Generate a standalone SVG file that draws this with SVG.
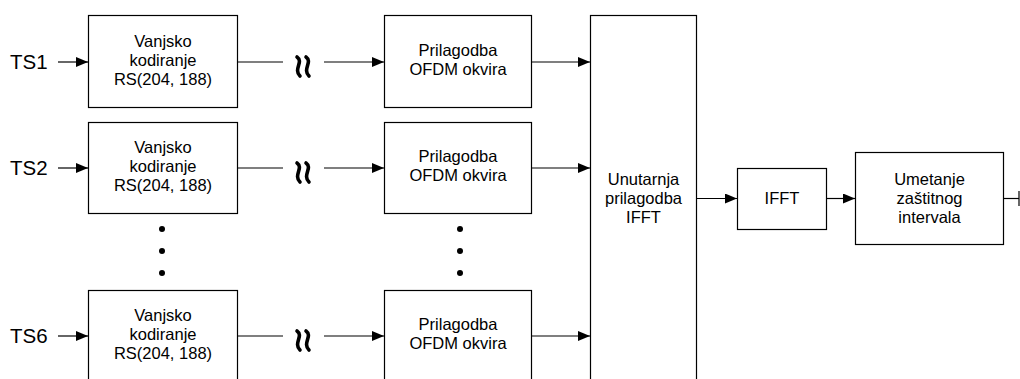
<svg xmlns="http://www.w3.org/2000/svg" width="1020" height="379" viewBox="0 0 1020 379">
<style>
.box{fill:#fff;stroke:#000;stroke-width:1.2}
.t{font-family:"Liberation Sans",Arial,sans-serif;font-size:16.5px;fill:#000;text-anchor:middle}
.lbl{font-family:"Liberation Sans",Arial,sans-serif;font-size:20.5px;fill:#000}
.ln{stroke:#000;stroke-width:1.2;fill:none}
.sq{stroke:#000;stroke-width:3.6;fill:none;stroke-linecap:round}
</style>
<defs>
<marker id="ah" viewBox="0 0 12 10" refX="12" refY="5" markerWidth="12" markerHeight="10" markerUnits="userSpaceOnUse" orient="auto">
<path d="M0,0 L12,5 L0,10 Z" fill="#000"/>
</marker>
<g id="squig">
<path class="sq" d="M0,0 C7,5 -4,12 3,19"/>
<path class="sq" d="M9,0 C16,5 5,12 12,19"/>
</g>
</defs>
<rect width="1020" height="379" fill="#fff"/>
<g id="labels">
<text class="lbl" x="10" y="69">TS1</text>
<text class="lbl" x="10" y="175">TS2</text>
<text class="lbl" x="10" y="343">TS6</text>
</g>
<g id="enc1"><rect class="box" x="88.5" y="15.5" width="149" height="92"/>
<text class="t" x="163" y="47">Vanjsko</text><text class="t" x="163" y="66">kodiranje</text><text class="t" x="163" y="85">RS(204, 188)</text></g>
<g id="enc2"><rect class="box" x="88.5" y="122.5" width="149" height="91"/>
<text class="t" x="163" y="153">Vanjsko</text><text class="t" x="163" y="172">kodiranje</text><text class="t" x="163" y="191">RS(204, 188)</text></g>
<g id="enc6"><rect class="box" x="88.5" y="290.5" width="149" height="95"/>
<text class="t" x="163" y="321">Vanjsko</text><text class="t" x="163" y="340">kodiranje</text><text class="t" x="163" y="359">RS(204, 188)</text></g>
<g id="pri1"><rect class="box" x="384.5" y="15.5" width="147" height="92"/>
<text class="t" x="458" y="56">Prilagodba</text><text class="t" x="458" y="75">OFDM okvira</text></g>
<g id="pri2"><rect class="box" x="384.5" y="122.5" width="147" height="91"/>
<text class="t" x="458" y="162">Prilagodba</text><text class="t" x="458" y="181">OFDM okvira</text></g>
<g id="pri6"><rect class="box" x="384.5" y="290.5" width="147" height="95"/>
<text class="t" x="458" y="330">Prilagodba</text><text class="t" x="458" y="349">OFDM okvira</text></g>
<g id="inner"><rect class="box" x="590.5" y="15.5" width="106" height="372"/>
<text class="t" x="643.5" y="185">Unutarnja</text><text class="t" x="643.5" y="204">prilagodba</text><text class="t" x="643.5" y="223">IFFT</text></g>
<g id="ifft"><rect class="box" x="737.5" y="168.5" width="89" height="61"/>
<text class="t" x="782" y="204">IFFT</text></g>
<g id="guard"><rect class="box" x="855.5" y="152.5" width="148" height="92"/>
<text class="t" x="929.5" y="185">Umetanje</text><text class="t" x="929.5" y="204">zaštitnog</text><text class="t" x="929.5" y="223">intervala</text></g>
<g id="dots">
<circle cx="162" cy="229" r="3"/><circle cx="162" cy="251" r="3"/><circle cx="162" cy="273" r="3"/>
<circle cx="460" cy="229" r="3"/><circle cx="460" cy="251" r="3"/><circle cx="460" cy="273" r="3"/>
</g>
<g id="connectors">
<line class="ln" x1="58" y1="62" x2="88" y2="62" marker-end="url(#ah)"/>
<line class="ln" x1="58" y1="168" x2="88" y2="168" marker-end="url(#ah)"/>
<line class="ln" x1="58" y1="336" x2="88" y2="336" marker-end="url(#ah)"/>
<line class="ln" x1="238" y1="62" x2="283" y2="62"/>
<line class="ln" x1="238" y1="168" x2="283" y2="168"/>
<line class="ln" x1="238" y1="336" x2="283" y2="336"/>
<use href="#squig" x="297" y="57"/>
<use href="#squig" x="297" y="163"/>
<use href="#squig" x="297" y="331"/>
<line class="ln" x1="324" y1="62" x2="384" y2="62" marker-end="url(#ah)"/>
<line class="ln" x1="324" y1="168" x2="384" y2="168" marker-end="url(#ah)"/>
<line class="ln" x1="324" y1="336" x2="384" y2="336" marker-end="url(#ah)"/>
<line class="ln" x1="532" y1="62" x2="590" y2="62" marker-end="url(#ah)"/>
<line class="ln" x1="532" y1="168" x2="590" y2="168" marker-end="url(#ah)"/>
<line class="ln" x1="532" y1="336" x2="590" y2="336" marker-end="url(#ah)"/>
<line class="ln" x1="697" y1="198.5" x2="737" y2="198.5" marker-end="url(#ah)"/>
<line class="ln" x1="827" y1="198.5" x2="855" y2="198.5" marker-end="url(#ah)"/>
<line class="ln" x1="1004" y1="198.5" x2="1019" y2="198.5"/>
<line class="ln" x1="1019" y1="191" x2="1019" y2="206"/>
</g>
</svg>
